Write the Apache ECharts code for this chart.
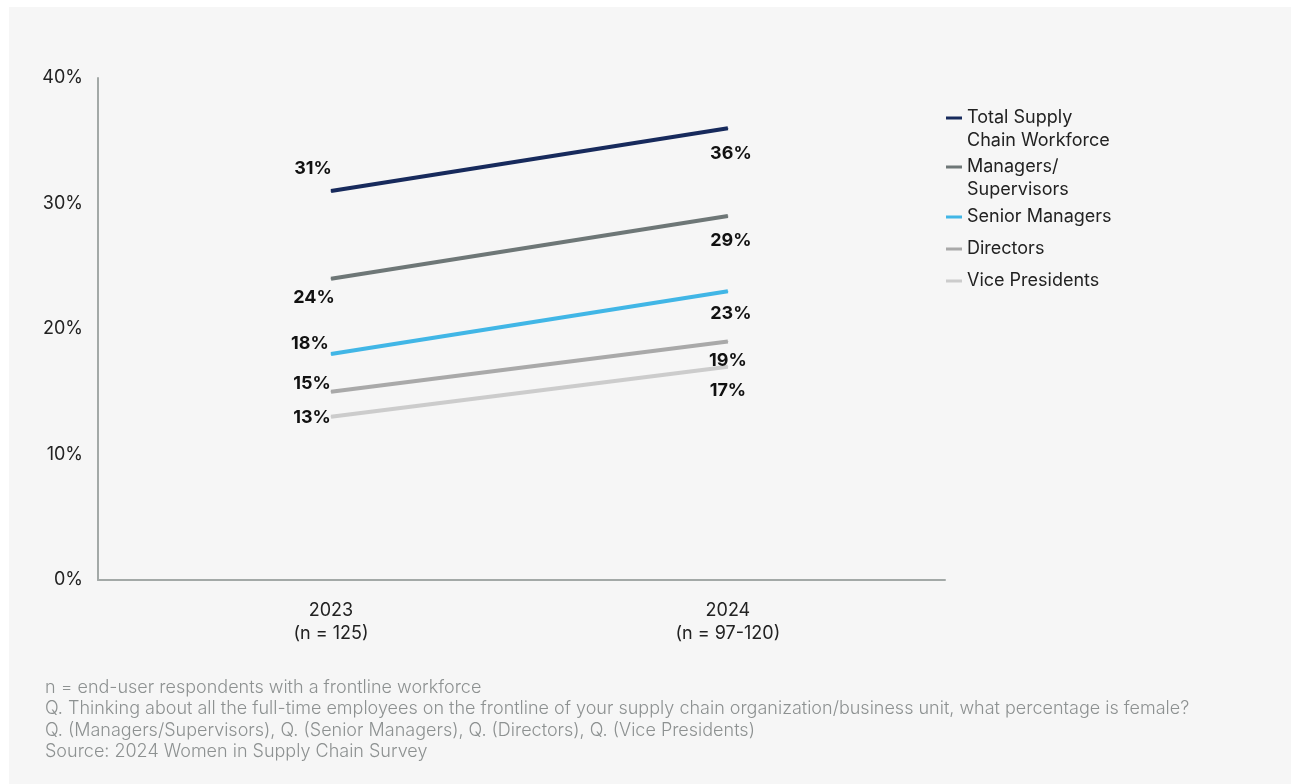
<!DOCTYPE html>
<html>
<head>
<meta charset="utf-8">
<script src="https://cdn.jsdelivr.net/npm/echarts@6/dist/echarts.min.js"></script>
<style>
  html, body { margin: 0; padding: 0; background: #ffffff; }
  #chart { width: 1291px; height: 784px; }
</style>
</head>
<body>
<div id="chart"></div>
<script>
// Survey years (x categories) and share of women per role level, in %
const years = ['2023\n(n = 125)', '2024\n(n = 97-120)'];
const seriesNames = ['Total Supply\nChain Workforce', 'Managers/\nSupervisors', 'Senior Managers', 'Directors', 'Vice Presidents'];
const totalWorkforce = [31, 36];
const managersSupervisors = [24, 29];
const seniorManagers = [18, 23];
const directors = [15, 19];
const vicePresidents = [13, 17];
const yTicks = [0, 10, 20, 30, 40];
const notes = [
  'n = end-user respondents with a frontline workforce',
  'Q. Thinking about all the full-time employees on the frontline of your supply chain organization/business unit, what percentage is female?',
  'Q. (Managers/Supervisors), Q. (Senior Managers), Q. (Directors), Q. (Vice Presidents)',
  'Source: 2024 Women in Supply Chain Survey'
];

const seriesValues = [totalWorkforce, managersSupervisors, seniorManagers, directors, vicePresidents];
const colors = ['#172a5c', '#6e7777', '#41b6e6', '#a9a9a9', '#cccccc'];

// label placement around each end point: [2023, 2024]
const labelOffsets = [
  [[-18, -22], [3, 25]],
  [[-17, 19], [3, 25]],
  [[-21, -11], [3, 22]],
  [[-19, -8], [0, 19]],
  [[-19, 1], [0, 24]]
];
// legend icon centre heights
const legendCentres = [118, 167, 217, 249, 281];

const FONT = 'Inter, "Noto Sans", sans-serif';

const series = seriesNames.map((name, i) => ({
  name: name,
  type: 'line',
  data: seriesValues[i].map((v, j) => ({
    value: [j, v],
    label: { offset: labelOffsets[i][j] }
  })),
  color: colors[i],
  lineStyle: { width: 4, color: colors[i], cap: 'butt' },
  itemStyle: { color: colors[i] },
  symbol: 'circle',
  symbolSize: 1,
  showSymbol: true,
  z: 10 - i,
  emphasis: { disabled: true },
  label: {
    show: true,
    position: 'inside',
    formatter: p => p.value[1] + '%',
    fontFamily: FONT,
    fontSize: 18,
    fontWeight: 'bold',
    color: '#111111'
  }
}));

// one legend block per entry; wrapped names keep the key beside their first line
const legends = seriesNames.map((name, i) => {
  const twoLine = name.indexOf('\n') >= 0;
  return {
    data: [name],
    orient: 'vertical',
    left: 946,
    top: legendCentres[i] - (twoLine ? 34.5 : 11.5),
    padding: 0,
    icon: 'rect',
    itemWidth: 16,
    itemHeight: 3,
    selectedMode: false,
    formatter: n => (twoLine ? ' \n' : '') + n,
    textStyle: {
      fontFamily: FONT,
      fontSize: 18,
      lineHeight: 23,
      color: '#222222'
    }
  };
});

const chart = echarts.init(document.getElementById('chart'), null, { renderer: 'canvas' });
chart.setOption({
  backgroundColor: '#ffffff',
  animation: false,
  graphic: [
    {
      type: 'rect',
      shape: { x: 9, y: 7, width: 1282, height: 777 },
      style: { fill: '#f6f6f6' },
      z: -10,
      silent: true
    },
    {
      type: 'text',
      left: 45,
      top: 677,
      style: {
        text: notes.join('\n'),
        fontFamily: FONT,
        fontWeight: 300,
        fontSize: 18,
        lineHeight: 21.3,
        fill: '#8d9191'
      },
      silent: true
    }
  ],
  legend: legends,
  grid: { left: 98, right: 346, top: 78, bottom: 204, containLabel: false },
  xAxis: {
    type: 'value',
    min: -0.587,
    max: 1.547,
    splitLine: { show: false },
    axisTick: { show: false },
    axisLine: { show: true, onZero: false, lineStyle: { color: '#a3a9a7', width: 2 } },
    axisLabel: {
      customValues: [0, 1],
      formatter: v => years[Math.round(v)],
      margin: 19,
      fontFamily: FONT,
      fontSize: 18,
      lineHeight: 23,
      color: '#222222',
      showMinLabel: true,
      showMaxLabel: true
    }
  },
  yAxis: {
    type: 'value',
    min: yTicks[0],
    max: yTicks[yTicks.length - 1],
    interval: yTicks[1] - yTicks[0],
    splitLine: { show: false },
    axisTick: { show: false },
    axisLine: { show: true, onZero: false, lineStyle: { color: '#a3a9a7', width: 2 } },
    axisLabel: {
      formatter: v => v + '%',
      margin: 15,
      fontFamily: FONT,
      fontSize: 18,
      color: '#222222'
    }
  },
  series: series
});
</script>
</body>
</html>
